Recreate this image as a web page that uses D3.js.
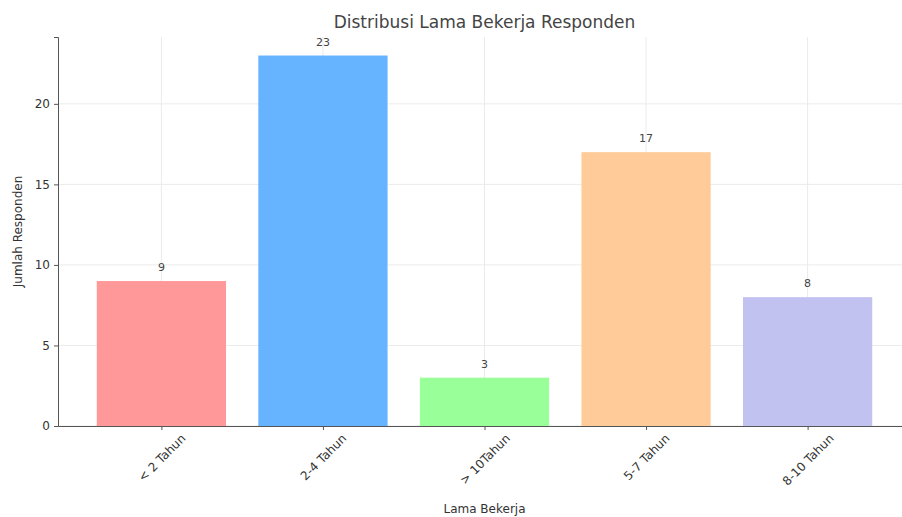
<!DOCTYPE html>
<html>
<head>
<meta charset="utf-8">
<script src="https://cdn.jsdelivr.net/npm/d3@7"></script>
<style>
  body { margin: 0; background: #fff; }
  svg { display: block; font-family: 'DejaVu Sans', sans-serif; }
</style>
</head>
<body>
<svg id="chart"></svg>
<script>
// Data
const categories = ['< 2 Tahun', '2-4 Tahun', '> 10Tahun', '5-7 Tahun', '8-10 Tahun']
const counts = [9, 23, 3, 17, 8]
const colors = ['#ff9999', '#66b3ff', '#99ff99', '#ffcc99', '#c2c2f0']
const yTicks = [0, 5, 10, 15, 20]

const width = 902
const height = 517
const margin = { top: 37, right: -9, bottom: 91, left: 58 }

const svg = d3.select('#chart')
  .attr('width', width)
  .attr('height', height)

const plotW = width - margin.left - margin.right
const plotH = height - margin.top - margin.bottom

// matplotlib-like limits: bars at integer positions, width 0.8, 5% margins
const x = d3.scaleLinear()
  .domain([-0.64, categories.length - 1 + 0.64])
  .range([margin.left, margin.left + plotW])

const y = d3.scaleLinear()
  .domain([0, d3.max(counts) * 1.05])
  .range([margin.top + plotH, margin.top])

const barW = x(0.8) - x(0)

// Grid
const grid = svg.append('g')
grid.selectAll('line.h')
  .data(yTicks)
  .enter().append('line')
  .attr('x1', margin.left).attr('x2', width)
  .attr('y1', d => y(d)).attr('y2', d => y(d))
  .attr('stroke', '#ebebeb').attr('stroke-width', 1)
grid.selectAll('line.v')
  .data(categories)
  .enter().append('line')
  .attr('x1', (d, i) => x(i)).attr('x2', (d, i) => x(i))
  .attr('y1', margin.top).attr('y2', margin.top + plotH)
  .attr('stroke', '#ebebeb').attr('stroke-width', 1)

// Bars
svg.append('g')
  .selectAll('rect')
  .data(counts)
  .enter().append('rect')
  .attr('x', (d, i) => x(i) - barW / 2)
  .attr('width', barW)
  .attr('y', d => y(d))
  .attr('height', d => y(0) - y(d))
  .attr('fill', (d, i) => colors[i])

// Value labels
svg.append('g')
  .selectAll('text')
  .data(counts)
  .enter().append('text')
  .attr('x', (d, i) => x(i))
  .attr('y', d => y(d) - 10)
  .attr('text-anchor', 'middle')
  .attr('font-size', '11px')
  .attr('fill', '#444')
  .text(d => d)

// Axes
const yAxis = svg.append('g')
  .attr('transform', `translate(${margin.left},0)`)
  .call(d3.axisLeft(y).tickValues(yTicks).tickSize(4).tickPadding(4))
yAxis.select('.domain').attr('stroke', '#555')
yAxis.selectAll('.tick line').attr('stroke', '#555')
yAxis.selectAll('.tick text').attr('font-size', '12px').attr('fill', '#333')
  .attr('font-family', 'DejaVu Sans')

const xAxis = svg.append('g')
  .attr('transform', `translate(0,${margin.top + plotH})`)
  .call(d3.axisBottom(x).tickValues(d3.range(categories.length))
    .tickFormat(i => categories[i]).tickSize(4).tickSizeOuter(0))
xAxis.select('.domain').attr('stroke', '#555')
xAxis.selectAll('.tick line').attr('stroke', '#555')
// rotated labels centred under the tick, like matplotlib rotation=45
xAxis.selectAll('.tick text')
  .attr('font-size', '12px').attr('fill', '#333')
  .attr('font-family', 'DejaVu Sans')
  .attr('text-anchor', 'middle')
  .attr('y', 0).attr('dy', '0.35em')
  .attr('transform', function () {
    const w = this.getComputedTextLength()
    const boxH = (w + 12) * Math.SQRT1_2
    return `translate(0,${6 + boxH / 2}) rotate(-45)`
  })

// Title and axis labels
svg.append('text')
  .attr('x', x(2)).attr('y', 28)
  .attr('text-anchor', 'middle')
  .attr('font-size', '17px').attr('fill', '#444')
  .text('Distribusi Lama Bekerja Responden')

svg.append('text')
  .attr('x', x(2)).attr('y', 513)
  .attr('text-anchor', 'middle')
  .attr('font-size', '12px').attr('fill', '#333')
  .text('Lama Bekerja')

svg.append('text')
  .attr('transform', `translate(22,${y(counts[1] * 1.05 / 2)}) rotate(-90)`)
  .attr('text-anchor', 'middle')
  .attr('font-size', '12px').attr('fill', '#333')
  .text('Jumlah Responden')
</script>
</body>
</html>
